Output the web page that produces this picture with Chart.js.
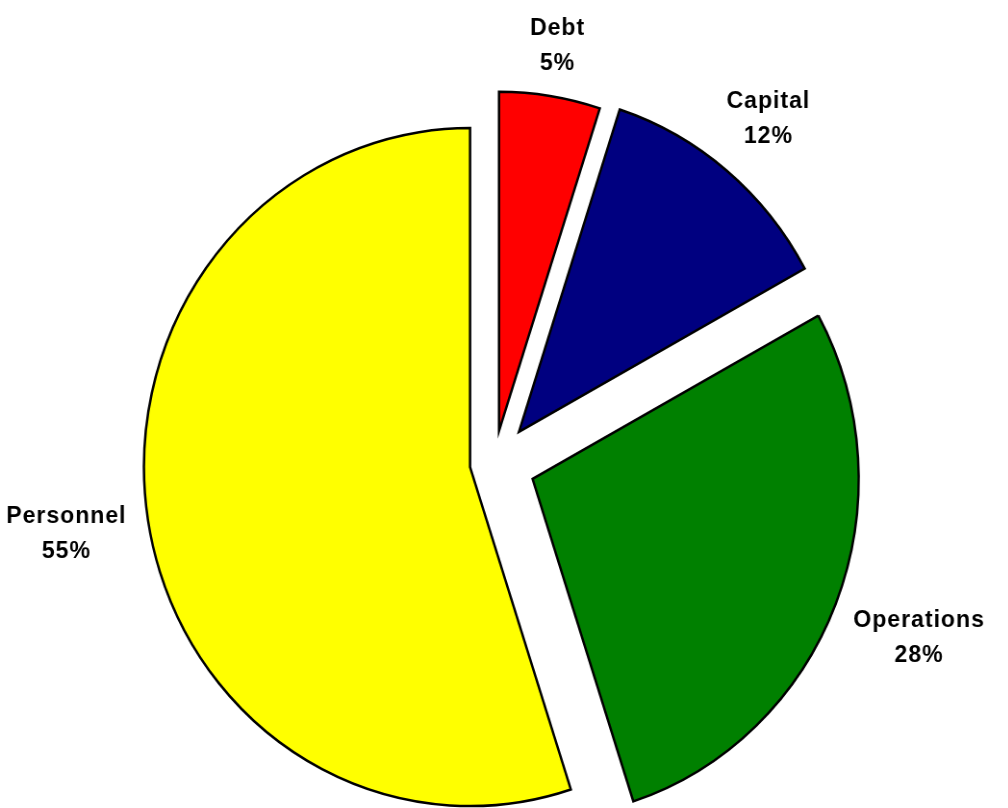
<!DOCTYPE html>
<html>
<head>
<meta charset="utf-8">
<title>Budget by category</title>
<script src="https://cdn.jsdelivr.net/npm/chart.js@4/dist/chart.umd.min.js"></script>
<style>
  html, body { margin: 0; padding: 0; background: #fff; overflow: hidden; }
  /* the pie is drawn slightly narrower than it is tall */
  #wrap { width: 1048px; height: 808px; transform: scaleX(0.962); transform-origin: 0 0; }
  canvas { display: block; }
</style>
</head>
<body>
<div id="wrap"><canvas id="chart" width="1048" height="808"></canvas></div>
<script>
// Budget shares, clockwise from 12 o'clock
const categories = ['Debt', 'Capital', 'Operations', 'Personnel'];
const shares = [5, 12, 28, 55];

// Styling
const sliceColors = ['#FF0000', '#000080', '#008000', '#FFFF00'];
const explodeBy = [32.7, 40.5, 43, 25.3];   // how far each slice is pulled out (px)
const LABEL_FONT = 'bold 24px "Liberation Sans", Arial, Helvetica, sans-serif';
const LINE_GAP = 35;   // distance between the two label lines
const CAP_H = 17.2;    // cap height of the label font
const LABEL_GAP = 20;  // space between a slice edge and its label block

// Pull every slice out along its own bisector
const explodePlugin = {
  id: 'explodeSlices',
  afterDatasetUpdate(chart, args) {
    args.meta.data.forEach((arc, i) => {
      const mid = (arc.startAngle + arc.endAngle) / 2;
      arc.x += Math.cos(mid) * explodeBy[i];
      arc.y += Math.sin(mid) * explodeBy[i];
    });
  }
};

// Two-line "name / percent" labels outside each slice
const labelPlugin = {
  id: 'sliceLabels',
  afterDatasetsDraw(chart) {
    const ctx = chart.ctx;
    const meta = chart.getDatasetMeta(0);
    const values = chart.data.datasets[0].data;
    ctx.save();
    ctx.font = LABEL_FONT;
    ctx.letterSpacing = '1px';
    ctx.fillStyle = '#000';
    ctx.textAlign = 'center';
    ctx.textBaseline = 'middle';
    meta.data.forEach((arc, i) => {
      const lines = [chart.data.labels[i], values[i] + '%'];
      const halfW = Math.max(...lines.map(t => ctx.measureText(t).width)) / 2;
      const halfH = (LINE_GAP + CAP_H) / 2;
      const mid = (arc.startAngle + arc.endAngle) / 2;
      const c = Math.cos(mid), s = Math.sin(mid);
      const d = arc.outerRadius + LABEL_GAP + Math.abs(c) * halfW + Math.abs(s) * halfH;
      const x = arc.x + c * d;
      const y = arc.y + s * d;
      ctx.fillText(lines[0], x, y - LINE_GAP / 2);
      ctx.fillText(lines[1], x, y + LINE_GAP / 2);
    });
    ctx.restore();
  }
};

new Chart(document.getElementById('chart'), {
  type: 'pie',
  data: {
    labels: categories,
    datasets: [{
      data: shares,
      backgroundColor: sliceColors,
      borderColor: '#000000',
      borderWidth: 2.5,
      borderJoinStyle: 'miter'
    }]
  },
  options: {
    responsive: false,
    maintainAspectRatio: false,
    devicePixelRatio: 1,
    animation: false,
    events: [],
    radius: 339,
    layout: { padding: { left: 0, right: 20.8, top: 118.2, bottom: 0 } },
    plugins: {
      legend: { display: false },
      tooltip: { enabled: false }
    }
  },
  plugins: [explodePlugin, labelPlugin]
});
</script>
</body>
</html>
